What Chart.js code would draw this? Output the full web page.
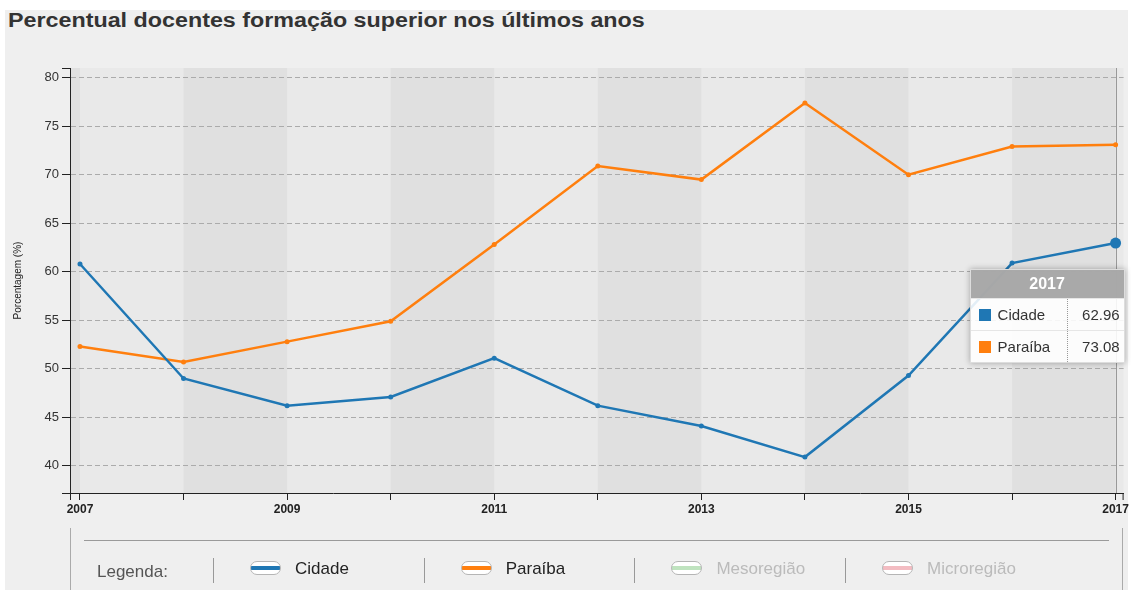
<!DOCTYPE html>
<html>
<head>
<meta charset="utf-8">
<script src="https://cdn.jsdelivr.net/npm/chart.js@4.4.1/dist/chart.umd.min.js"></script>
<style>
body { margin: 0; background: #fff; font-family: "Liberation Sans", Arial, sans-serif; width: 1131px; height: 590px; overflow: hidden; position: relative; }
#bg { position: absolute; left: 5px; top: 10px; width: 1123px; height: 580px; background: #efefef; }
#title { position: absolute; left: 8px; top: 9px; font-size: 20px; font-weight: bold; color: #333; white-space: nowrap; transform-origin: 0 0; }
#box { position: absolute; left: 0; top: 40px; width: 1131px; height: 490px; }
#tip { position: absolute; display: none; width: 155px; background: rgba(255,255,255,0.88); box-shadow: 0 0 6px rgba(0,0,0,0.3); border: 1px solid #ddd; box-sizing: border-box; }
#tip .hd { background: rgba(160,160,160,0.9); color: #fff; font-weight: bold; font-size: 16px; text-align: center; height: 28px; line-height: 28px; }
#tip .row { height: 31px; line-height: 31px; font-size: 15px; color: #333; position: relative; border-top: 1px solid #e6e6e6; }
#tip .sw { position: absolute; left: 8px; top: 10px; width: 12px; height: 12px; }
#tip .k { position: absolute; left: 27px; }
#tip .v { position: absolute; left: 96px; right: 0; padding-right: 4px; text-align: right; border-left: 1px dotted #999; height: 31px; }
#lg { position: absolute; left: 70px; top: 528px; width: 1053px; height: 62px; border-left: 1px solid #aaa; border-right: 1px solid #aaa; box-sizing: border-box; }
#lg .hr { position: absolute; left: 13px; top: 12px; width: 1025px; border-top: 1px solid #9a9a9a; }
#lg .txt { position: absolute; top: 34px; font-size: 17px; color: #555; white-space: nowrap; }
#lg .sep { position: absolute; top: 30px; width: 0; height: 25px; border-left: 1px solid #999; }
#lg .ico { position: absolute; top: 33px; width: 29px; height: 12px; border: 1px solid #b5b5b5; border-radius: 7px; }
</style>
</head>
<body>
<div id="bg"></div>
<div id="title">Percentual docentes formação superior nos últimos anos</div>
<div id="box"><canvas id="chart" width="1131" height="490"></canvas></div>
<div id="tip"></div>
<div id="lg"></div>
<script>
const years = [2007, 2008, 2009, 2010, 2011, 2012, 2013, 2014, 2015, 2016, 2017];
const cidade = [60.8, 49.0, 46.2, 47.1, 51.1, 46.2, 44.1, 40.9, 49.3, 60.9, 62.96];
const paraiba = [52.3, 50.7, 52.8, 54.9, 62.8, 70.9, 69.5, 77.4, 70.0, 72.9, 73.08];
const yTicks = [40, 45, 50, 55, 60, 65, 70, 75, 80];
const xTickLabels = ['2007', '2009', '2011', '2013', '2015', '2017'];
const legendNames = ['Cidade', 'Paraíba', 'Mesoregião', 'Microregião'];
const legendColors = ['#1f77b4', '#ff7f0e', '#bfe3bf', '#f3bcc2'];

// stretch title to the width it has in the picture
const title = document.getElementById('title');
title.style.transform = 'scaleX(' + (637 / title.offsetWidth) + ')';

const last = years.length - 1;

const bands = {
    id: 'bands',
    beforeDraw(chart) {
        const {ctx, chartArea: a, scales: {x}} = chart;
        ctx.save();
        ctx.fillStyle = '#e9e9e9';
        ctx.fillRect(a.left, a.top, a.right - a.left, a.bottom - a.top);
        ctx.fillStyle = '#e0e0e0';
        for (let yr = years[0] - 1; yr <= years[last]; yr++) {
            if (yr % 2 !== 0) continue;
            const l = Math.max(a.left, x.getPixelForValue(yr));
            const r = Math.min(a.right, x.getPixelForValue(yr + 1));
            ctx.fillRect(l, a.top, r - l, a.bottom - a.top);
        }
        ctx.restore();
    },
    beforeDatasetsDraw(chart) {
        const {ctx, chartArea: a, scales: {x}} = chart;
        const px = Math.round(x.getPixelForValue(years[last])) + 0.5;
        ctx.save();
        ctx.strokeStyle = '#999';
        ctx.lineWidth = 1;
        ctx.beginPath();
        ctx.moveTo(px, a.top);
        ctx.lineTo(px, a.bottom);
        ctx.stroke();
        ctx.restore();
    },
    afterDraw(chart) {
        // outer ticks at the ends of both axes
        const {ctx, chartArea: a} = chart;
        ctx.save();
        ctx.strokeStyle = '#222';
        ctx.lineWidth = 1;
        ctx.beginPath();
        ctx.moveTo(a.left - 8, a.top + 0.5); ctx.lineTo(a.left, a.top + 0.5);
        ctx.moveTo(a.left - 8, a.bottom + 0.5); ctx.lineTo(a.left, a.bottom + 0.5);
        ctx.moveTo(a.left + 0.5, a.bottom); ctx.lineTo(a.left + 0.5, a.bottom + 7);
        ctx.moveTo(a.right - 0.5, a.bottom); ctx.lineTo(a.right - 0.5, a.bottom + 7);
        ctx.stroke();
        ctx.restore();
    }
};

function renderTip(context) {
    const {chart, tooltip} = context;
    const el = document.getElementById('tip');
    if (tooltip.opacity === 0 || !tooltip.dataPoints || !tooltip.dataPoints.length) {
        el.style.display = 'none';
        return;
    }
    const pts = tooltip.dataPoints;
    let html = '<div class="hd">' + pts[0].parsed.x + '</div>';
    pts.forEach(p => {
        html += '<div class="row"><span class="sw" style="background:' + p.dataset.borderColor + '"></span>' +
            '<span class="k">' + p.dataset.label + '</span><span class="v">' + p.parsed.y.toFixed(2) + '</span></div>';
    });
    el.innerHTML = html;
    const r = chart.canvas.getBoundingClientRect();
    const e = pts[0].element;
    el.style.left = (r.left + e.x - 146) + 'px';
    el.style.top = (r.top + e.y + 26) + 'px';
    el.style.display = 'block';
}

const tickFont = {family: '"Liberation Sans", Arial, sans-serif', size: 13};

// the hovered 2017 point of Cidade is drawn bigger
const hoverRadius = ctx => (ctx.datasetIndex === 0 && ctx.dataIndex === last ? 5.5 : 2.5);

const config = {
    type: 'line',
    data: {
        datasets: [{
            label: legendNames[0],
            data: years.map((yr, i) => ({x: yr, y: cidade[i]})),
            borderColor: legendColors[0],
            backgroundColor: legendColors[0],
            borderWidth: 2.5,
            pointRadius: hoverRadius,
            pointHoverRadius: 5.5,
            pointBorderWidth: 0,
            pointHoverBorderWidth: 0,
        }, {
            label: legendNames[1],
            data: years.map((yr, i) => ({x: yr, y: paraiba[i]})),
            borderColor: legendColors[1],
            backgroundColor: legendColors[1],
            borderWidth: 2.5,
            pointRadius: 2.5,
            pointHoverRadius: 2.5,
            pointBorderWidth: 0,
            pointHoverBorderWidth: 0,
        }]
    },
    options: {
        responsive: false,
        animation: false,
        events: [],
        layout: {padding: {top: 28, right: 7, left: 0, bottom: 0}},
        plugins: {
            legend: {display: false},
            title: {display: false},
            tooltip: {enabled: false, mode: 'index', intersect: false, external: renderTip}
        },
        scales: {
            x: {
                type: 'linear',
                min: 2007 - 10 / 103.6,
                max: 2017 + 8 / 103.6,
                afterBuildTicks: axis => { axis.ticks = years.map(v => ({value: v})); },
                afterFit: axis => { axis.height = 37; },
                ticks: {
                    autoSkip: false,
                    maxRotation: 0,
                    padding: 2,
                    color: '#222',
                    font: {...tickFont, size: 12, weight: 'bold'},
                    callback: v => xTickLabels.includes(String(v)) ? String(v) : ''
                },
                grid: {drawOnChartArea: false, drawTicks: true, tickLength: 7, tickColor: '#222'},
                border: {display: true, color: '#222', width: 1}
            },
            y: {
                min: 37.2,
                max: 81.0,
                afterBuildTicks: axis => { axis.ticks = yTicks.map(v => ({value: v})); },
                afterFit: axis => { axis.width = 70; },
                ticks: {padding: 3, color: '#333', font: tickFont},
                title: {
                    display: true,
                    text: 'Porcentagem (%)',
                    color: '#222',
                    font: {family: tickFont.family, size: 10},
                    padding: {top: 12, bottom: 0}
                },
                grid: {
                    color: '#ababab',
                    tickLength: 8,
                    tickColor: '#222',
                    tickBorderDash: []
                },
                border: {display: true, color: '#222', width: 1, dash: [5, 3]}
            }
        }
    },
    plugins: [bands]
};

const myChart = new Chart(document.getElementById('chart'), config);

myChart.tooltip.setActiveElements(
    [{datasetIndex: 0, index: last}, {datasetIndex: 1, index: last}],
    {x: 0, y: 0}
);

// legend below the chart
const lg = document.getElementById('lg');
let lgHtml = '<div class="hr"></div><div class="txt" style="left:26px">Legenda:</div>';
legendNames.forEach((name, i) => {
    const sx = 142 + i * 210.7;
    const on = i < 2;
    lgHtml += '<div class="sep" style="left:' + sx + 'px"></div>';
    lgHtml += '<div class="ico" style="left:' + (sx + 37) + 'px;background:linear-gradient(#fff 0 33%,' +
        legendColors[i] + ' 33% 67%,#fff 67%)"></div>';
    lgHtml += '<div class="txt" style="left:' + (sx + 82) + 'px;top:31px;color:' + (on ? '#222' : '#bbb') + '">' + name + '</div>';
});
lg.innerHTML = lgHtml;
</script>
</body>
</html>
